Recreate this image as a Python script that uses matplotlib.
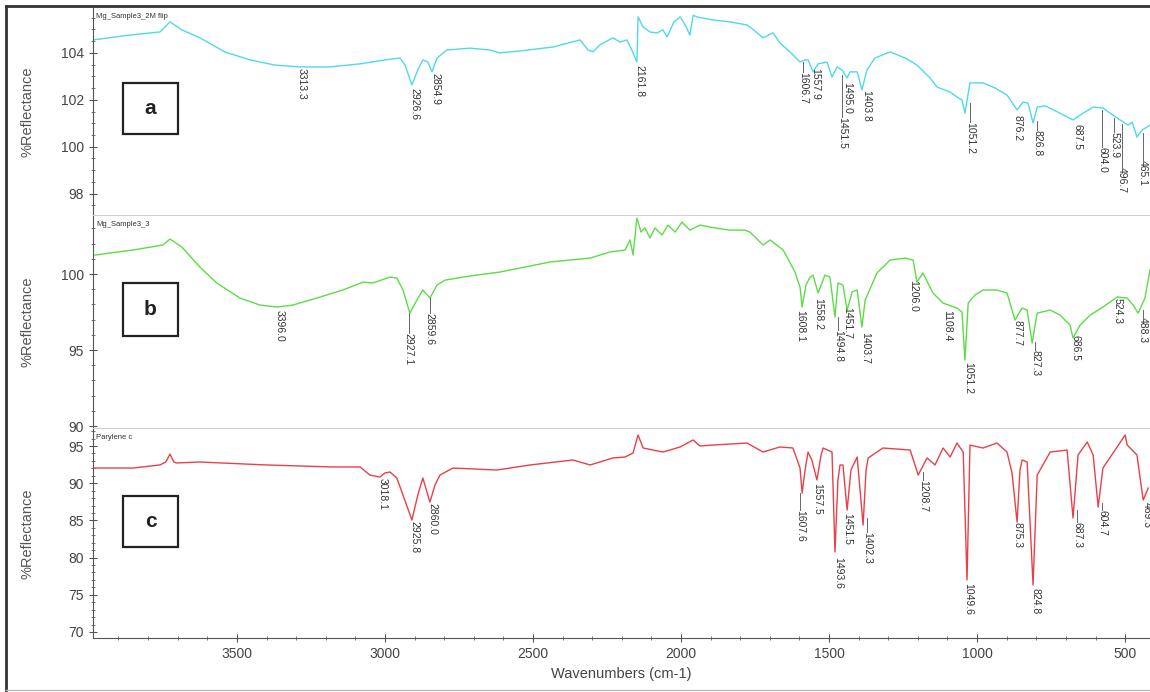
"""
FTIR reflectance spectra, three stacked panels (a, b, c)
"""

import numpy as np
import matplotlib
matplotlib.use('Agg')
import matplotlib.pyplot as plt
from matplotlib.ticker import MultipleLocator
from matplotlib.patches import Rectangle
from matplotlib.lines import Line2D

plt.rcParams['font.family'] = ['Liberation Sans', 'DejaVu Sans']

# ---- panel a : Mg_Sample3_2M flip ----
wn_a = [3986, 3861, 3760, 3726, 3686, 3625, 3541, 3456, 3372, 3287, 3186, 3084, 3000, 2949,
        2932, 2909, 2889, 2872, 2855, 2841, 2824, 2791, 2713, 2645, 2612, 2544, 2432, 2341,
        2314, 2297, 2274, 2230, 2206, 2183, 2166, 2149, 2145, 2128, 2105, 2081, 2061, 2047,
        2024, 2003, 1986, 1970, 1959, 1946, 1892, 1835, 1777, 1750, 1723, 1689, 1666, 1632,
        1598, 1581, 1571, 1554, 1537, 1507, 1490, 1473, 1456, 1439, 1429, 1405, 1389, 1372,
        1345, 1294, 1243, 1203, 1159, 1135, 1091, 1068, 1051, 1041, 1024, 980, 939, 899,
        865, 845, 828, 811, 797, 770, 720, 676, 652, 608, 575, 551, 517, 490, 476, 460,
        443, 426, 416]
refl_a = [104.55, 104.76, 104.89, 105.32, 104.98, 104.64, 104.04, 103.70, 103.48, 103.40,
          103.40, 103.53, 103.70, 103.78, 103.48, 102.63, 103.27, 103.70, 103.61, 103.19,
          103.78, 104.12, 104.20, 104.12, 104.00, 104.08, 104.25, 104.55, 104.12, 104.04,
          104.34, 104.64, 104.46, 104.55, 104.12, 103.61, 105.53, 105.10, 104.89, 104.85,
          104.98, 104.68, 105.32, 105.53, 105.19, 104.76, 105.60, 105.53, 105.40, 105.32,
          105.19, 104.93, 104.64, 104.85, 104.42, 104.04, 103.61, 103.70, 103.70, 103.19,
          103.53, 103.61, 102.97, 103.40, 103.27, 102.93, 103.19, 103.19, 102.42, 103.27,
          103.78, 104.04, 103.78, 103.48, 102.93, 102.54, 102.33, 102.12, 101.99, 101.43,
          102.72, 102.72, 102.50, 102.20, 101.57, 101.90, 101.86, 101.01, 101.69, 101.74,
          101.43, 101.14, 101.35, 101.69, 101.65, 101.43, 101.14, 100.92, 101.05, 100.41,
          100.71, 100.84, 100.92]
peaks_a = ["3313.3", "2926.6", "2854.9", "2161.8", "1606.7", "1557.9", "1495.0", "1451.5",
           "1403.8", "1051.2", "876.2", "826.8", "687.5", "604.0", "523.9", "496.7", "465.1"]
peak_x_a = [3280, 2902, 2828, 2139, 1588, 1547, 1439, 1456, 1375, 1024, 862, 797, 662,
            578, 537, 510, 439]
peak_y_a = [103.36, 102.50, 103.14, 103.48, 103.19, 103.36, 102.76, 101.27, 102.42, 101.05,
            101.35, 100.71, 100.97, 99.99, 100.63, 99.14, 99.43]

# ---- panel b : Mg_Sample3_3 ----
wn_b = [3980, 3851, 3750, 3726, 3686, 3625, 3568, 3490, 3422, 3365, 3311, 3230, 3142, 3074,
        3041, 2983, 2960, 2939, 2916, 2892, 2872, 2848, 2824, 2797, 2713, 2612, 2443, 2307,
        2240, 2189, 2172, 2162, 2149, 2135, 2122, 2105, 2088, 2064, 2044, 2020, 1997, 1970,
        1936, 1885, 1835, 1784, 1767, 1723, 1699, 1655, 1615, 1598, 1591, 1578, 1564, 1554,
        1537, 1514, 1497, 1480, 1470, 1453, 1439, 1422, 1405, 1389, 1378, 1338, 1294, 1243,
        1216, 1203, 1183, 1149, 1115, 1068, 1051, 1041, 1030, 1007, 980, 933, 899, 872,
        848, 831, 814, 797, 753, 720, 686, 676, 652, 618, 575, 527, 493, 473, 456, 433, 416]
refl_b = [101.25, 101.58, 101.91, 102.30, 101.78, 100.46, 99.41, 98.42, 97.96, 97.83,
          97.96, 98.42, 98.95, 99.47, 99.41, 99.80, 99.74, 98.95, 97.43, 98.29,
          98.95, 98.42, 99.28, 99.60, 99.87, 100.13, 100.79, 101.05, 101.45, 101.58,
          102.24, 101.25, 103.68, 102.76, 103.03, 102.37, 103.03, 102.57, 103.22, 102.76,
          103.42, 102.89, 103.22, 103.03, 102.89, 102.89, 102.76, 101.91, 102.24, 101.58,
          100.13, 99.14, 97.83, 99.28, 99.80, 99.93, 98.75, 99.93, 99.80, 97.17,
          99.41, 99.28, 97.63, 98.82, 98.95, 96.51, 98.29, 100.07, 100.92, 101.05,
          100.92, 99.47, 100.07, 98.75, 98.09, 97.76, 97.50, 94.34, 98.09, 98.62,
          98.95, 98.95, 98.75, 96.97, 97.76, 97.63, 95.46, 97.43, 97.63, 97.30,
          96.64, 95.79, 96.64, 97.30, 97.83, 98.49, 98.42, 97.96, 97.43, 98.42, 100.26]
peaks_b = ["3396.0", "2927.1", "2859.6", "1608.1", "1558.2", "1494.8", "1451.7", "1403.7",
           "1206.0", "1108.4", "1051.2", "877.7", "827.3", "686.5", "524.3", "488.3"]
peak_x_b = [3355, 2919, 2848, 1598, 1537, 1470, 1439, 1379, 1216, 1102, 1031, 865, 804,
            669, 527, 439]
peak_y_b = [97.63, 96.12, 97.43, 97.63, 98.42, 96.32, 97.83, 96.18, 99.61, 97.63, 94.21,
            96.97, 95.00, 95.99, 98.42, 97.17]

# ---- panel c : Parylene c ----
wn_c = [3980, 3851, 3760, 3740, 3726, 3713, 3703, 3625, 3399, 3176, 3084, 3051, 3017, 3000,
        2983, 2960, 2939, 2909, 2889, 2872, 2848, 2831, 2814, 2770, 2622, 2510, 2365, 2307,
        2230, 2189, 2162, 2145, 2128, 2061, 2003, 1959, 1936, 1892, 1777, 1723, 1666, 1622,
        1598, 1591, 1581, 1571, 1558, 1541, 1527, 1520, 1490, 1480, 1470, 1463, 1453, 1439,
        1426, 1405, 1385, 1375, 1368, 1318, 1226, 1199, 1169, 1142, 1115, 1091, 1068, 1047,
        1034, 1024, 980, 933, 899, 882, 865, 855, 848, 831, 811, 797, 753, 696, 676, 659,
        628, 608, 591, 575, 527, 500, 493, 460, 439, 422]
refl_c = [92.04, 92.04, 92.45, 92.85, 93.92, 92.85, 92.72, 92.85, 92.45, 92.18,
          92.18, 91.10, 90.83, 91.37, 91.51, 90.70, 88.41, 85.05, 88.41, 90.70,
          87.47, 89.76, 91.10, 92.04, 91.77, 92.45, 93.12, 92.45, 93.39, 93.52,
          94.06, 96.48, 94.73, 94.19, 94.87, 95.81, 95.00, 95.13, 95.40, 94.19,
          94.87, 94.73, 92.04, 88.68, 91.77, 94.19, 93.12, 90.43, 93.79, 94.73,
          94.19, 80.75, 90.43, 92.45, 92.45, 86.40, 91.77, 93.52, 84.38, 91.77,
          93.39, 94.73, 94.46, 91.10, 93.39, 92.45, 94.73, 93.52, 95.40, 94.19,
          76.99, 95.13, 94.73, 95.40, 94.19, 91.37, 84.78, 91.77, 93.12, 92.85,
          76.32, 91.10, 94.19, 94.46, 85.32, 93.79, 95.54, 93.79, 86.80, 92.04,
          94.87, 96.48, 95.13, 93.79, 87.74, 89.35]
peaks_c = ["3018.1", "2925.8", "2860.0", "1607.6", "1557.5", "1493.6", "1451.5", "1402.3",
           "1208.7", "1049.6", "875.3", "824.8", "687.3", "604.7", "469.3"]
peak_x_c = [3007, 2902, 2841, 1598, 1541, 1470, 1439, 1372, 1183, 1031, 862, 804, 662, 578, 426]
peak_y_c = [90.70, 84.92, 87.34, 86.40, 90.03, 80.08, 85.99, 83.44, 90.43, 76.59, 84.78,
            75.91, 84.78, 86.40, 87.47]

names = ["Mg_Sample3_2M flip", "Mg_Sample3_3", "Parylene c"]
letters = ["a", "b", "c"]


def draw_panel(ax, wn, refl, color, peaks, px, py, px_per_unit):
    ax.plot(wn, refl, color=color, lw=1.0)
    fine = np.linspace(min(wn), max(wn), 4000)
    curve = np.interp(fine, wn[::-1], refl[::-1])
    for txt, x, y in zip(peaks, px, py):
        near = curve[np.abs(fine - x) < 12]
        top = near.min() if len(near) else y
        # leader only where the label sits clearly below its peak
        if (top - y) * px_per_unit > 7:
            ax.plot([x, x], [top, y], color='#666666', lw=0.7)
        ax.text(x, y, txt, rotation=270, ha='center', va='top', fontsize=7.5,
                color='#333333')


def main():
    fig = plt.figure(figsize=(11.5, 6.92), dpi=100)
    left, width = 93 / 1150, 1057 / 1150
    rects = [(0.6893, 0.2991), (0.3815, 0.3064), (0.0780, 0.3020)]
    ylims = [(97.09, 105.91), (89.87, 103.82), (69.19, 97.28)]
    majors = [2, 5, 5]
    minors = [0.5, 1, 1]
    data = [(wn_a, refl_a, '#4fd8ee', peaks_a, peak_x_a, peak_y_a),
            (wn_b, refl_b, '#5cdc45', peaks_b, peak_x_b, peak_y_b),
            (wn_c, refl_c, '#e8404a', peaks_c, peak_x_c, peak_y_c)]
    boxes = [(83, 134), (283, 336), (496, 547)]

    for i in range(3):
        ax = fig.add_axes([left, rects[i][0], width, rects[i][1]])
        wn, refl, col, pk, pxs, pys = data[i]
        lo, hi = ylims[i]
        ppu = rects[i][1] * 692 / (hi - lo)
        draw_panel(ax, wn, refl, col, pk, pxs, pys, ppu)
        ax.set_xlim(3986, 416)
        ax.set_ylim(lo, hi)
        ax.yaxis.set_major_locator(MultipleLocator(majors[i]))
        ax.yaxis.set_minor_locator(MultipleLocator(minors[i]))
        ax.xaxis.set_major_locator(MultipleLocator(500))
        ax.xaxis.set_minor_locator(MultipleLocator(100))
        ax.tick_params(axis='both', which='major', direction='inout', length=6,
                       width=0.8, colors='#555555', labelsize=10, labelcolor='#444444')
        ax.tick_params(axis='both', which='minor', direction='inout', length=3,
                       width=0.7, colors='#777777')
        ax.spines['right'].set_visible(False)
        ax.spines['top'].set_visible(False)
        ax.spines['left'].set_color('#555555')
        ax.set_ylabel('%Reflectance', fontsize=10.5, color='#555555')
        ax.yaxis.set_label_coords(-0.055, 0.5)
        ax.text(0.003, 0.975, names[i], transform=ax.transAxes, fontsize=5.5,
                color='#333333', va='top', ha='left')
        if i < 2:
            ax.spines['bottom'].set_color('#d0d0d0')
            ax.tick_params(axis='x', which='both', bottom=False, labelbottom=False)
        else:
            ax.spines['bottom'].set_color('#555555')
            ax.set_xlabel('Wavenumbers (cm-1)', fontsize=10.5, color='#444444', labelpad=4)

        y0, y1 = boxes[i]
        fig.add_artist(Rectangle((123 / 1150, 1 - y1 / 692), 55 / 1150, (y1 - y0) / 692,
                                 transform=fig.transFigure, fill=False,
                                 edgecolor='#222222', lw=1.6))
        fig.text(150.5 / 1150, 1 - (y0 + y1) / 2 / 692, letters[i], fontsize=15,
                 fontweight='bold', ha='center', va='center', color='#222222')

    # outer frame of the original screenshot
    fig.add_artist(Line2D([6 / 1150, 6 / 1150], [0.003, 1 - 6 / 692], transform=fig.transFigure,
                          color='#333333', lw=2))
    fig.add_artist(Line2D([6 / 1150, 1.0], [1 - 6 / 692, 1 - 6 / 692], transform=fig.transFigure,
                          color='#333333', lw=2))
    fig.add_artist(Line2D([6 / 1150, 1.0], [0.003, 0.003], transform=fig.transFigure,
                          color='#bbbbbb', lw=1))

    fig.savefig('out.png', dpi=100)


if __name__ == '__main__':
    main()
